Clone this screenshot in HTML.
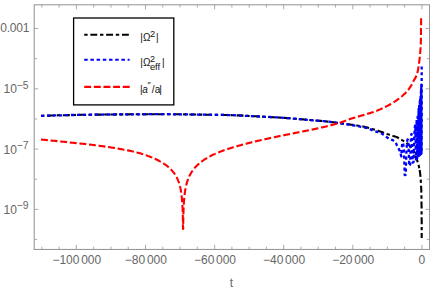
<!DOCTYPE html>
<html><head><meta charset="utf-8"><title>plot</title>
<style>
html,body{margin:0;padding:0;background:#fff;}
svg{display:block;font-family:"Liberation Sans",sans-serif;}
</style></head><body>
<svg width="436" height="293" viewBox="0 0 436 293">
<rect width="436" height="293" fill="#fff"/>
<g fill="none" stroke-linejoin="round">
<polyline transform="translate(0,0.1)" points="41.0,115.7 42.0,115.7 43.0,115.7 44.0,115.6 45.0,115.6 46.0,115.6 47.0,115.6 48.0,115.5 49.0,115.5 50.0,115.5 51.0,115.4 52.0,115.4 53.0,115.4 54.0,115.4 55.0,115.3 56.0,115.3 57.0,115.3 58.0,115.2 59.0,115.2 60.0,115.2 61.0,115.2 62.0,115.2 63.0,115.1 64.0,115.1 65.0,115.1 66.0,115.1 67.0,115.0 68.0,115.0 69.0,115.0 70.0,115.0 71.0,114.9 72.0,114.9 73.0,114.9 74.0,114.9 75.0,114.9 76.0,114.8 77.0,114.8 78.0,114.8 79.0,114.8 80.0,114.8 81.0,114.7 82.0,114.7 83.0,114.7 84.0,114.7 85.0,114.7 86.0,114.7 87.0,114.6 88.0,114.6 89.0,114.6 90.0,114.6 91.0,114.6 92.0,114.6 93.0,114.6 94.0,114.6 95.0,114.5 96.0,114.5 97.0,114.5 98.0,114.5 99.0,114.5 100.0,114.5 101.0,114.5 102.0,114.5 103.0,114.5 104.0,114.4 105.0,114.4 106.0,114.4 107.0,114.4 108.0,114.4 109.0,114.4 110.0,114.4 111.0,114.4 112.0,114.4 113.0,114.4 114.0,114.4 115.0,114.4 116.0,114.3 117.0,114.3 118.0,114.3 119.0,114.3 120.0,114.3 121.0,114.3 122.0,114.3 123.0,114.3 124.0,114.3 125.0,114.3 126.0,114.3 127.0,114.3 128.0,114.3 129.0,114.3 130.0,114.2 131.0,114.2 132.0,114.2 133.0,114.2 134.0,114.2 135.0,114.2 136.0,114.2 137.0,114.2 138.0,114.2 139.0,114.2 140.0,114.2 141.0,114.2 142.0,114.2 143.0,114.2 144.0,114.2 145.0,114.2 146.0,114.1 147.0,114.1 148.0,114.1 149.0,114.1 150.0,114.1 151.0,114.1 152.0,114.1 153.0,114.1 154.0,114.1 155.0,114.1 156.0,114.1 157.0,114.1 158.0,114.1 159.0,114.1 160.0,114.1 161.0,114.1 162.0,114.1 163.0,114.1 164.0,114.1 165.0,114.1 166.0,114.1 167.0,114.1 168.0,114.1 169.0,114.1 170.0,114.1 171.0,114.1 172.0,114.2 173.0,114.2 174.0,114.2 175.0,114.2 176.0,114.2 177.0,114.2 178.0,114.2 179.0,114.2 180.0,114.2 181.0,114.2 182.0,114.3 183.0,114.3 184.0,114.3 185.0,114.3 186.0,114.3 187.0,114.3 188.0,114.3 189.0,114.4 190.0,114.4 191.0,114.4 192.0,114.4 193.0,114.4 194.0,114.4 195.0,114.4 196.0,114.4 197.0,114.5 198.0,114.5 199.0,114.5 200.0,114.5 201.0,114.5 202.0,114.5 203.0,114.5 204.0,114.6 205.0,114.6 206.0,114.6 207.0,114.6 208.0,114.6 209.0,114.6 210.0,114.6 211.0,114.6 212.0,114.7 213.0,114.7 214.0,114.7 215.0,114.7 216.0,114.7 217.0,114.7 218.0,114.8 219.0,114.8 220.0,114.8 221.0,114.8 222.0,114.8 223.0,114.8 224.0,114.9 225.0,114.9 226.0,114.9 227.0,114.9 228.0,115.0 229.0,115.0 230.0,115.0 231.0,115.0 232.0,115.1 233.0,115.1 234.0,115.1 235.0,115.2 236.0,115.2 237.0,115.3 238.0,115.3 239.0,115.3 240.0,115.4 241.0,115.4 242.0,115.5 243.0,115.5 244.0,115.6 245.0,115.7 246.0,115.7 247.0,115.8 248.0,115.8 249.0,115.9 250.0,115.9 251.0,116.0 252.0,116.0 253.0,116.1 254.0,116.1 255.0,116.2 256.0,116.2 257.0,116.3 258.0,116.3 259.0,116.4 260.0,116.4 261.0,116.5 262.0,116.5 263.0,116.6 264.0,116.6 265.0,116.7 266.0,116.7 267.0,116.8 268.0,116.8 269.0,116.9 270.0,116.9 271.0,117.0 272.0,117.0 273.0,117.1 274.0,117.1 275.0,117.2 276.0,117.3 277.0,117.3 278.0,117.4 279.0,117.4 280.0,117.5 281.0,117.6 282.0,117.6 283.0,117.7 284.0,117.8 285.0,117.8 286.0,117.9 287.0,118.0 288.0,118.1 289.0,118.1 290.0,118.2 291.0,118.3 292.0,118.4 293.0,118.5 294.0,118.6 295.0,118.6 296.0,118.7 297.0,118.8 298.0,118.9 299.0,119.0 300.0,119.1 301.0,119.2 302.0,119.2 303.0,119.3 304.0,119.4 305.0,119.5 306.0,119.6 307.0,119.7 308.0,119.8 309.0,119.8 310.0,119.9 311.0,120.0 312.0,120.1 313.0,120.2 314.0,120.2 315.0,120.3 316.0,120.4 317.0,120.5 318.0,120.6 319.0,120.7 320.0,120.8 321.0,120.8 322.0,120.9 323.0,121.0 324.0,121.1 325.0,121.2 326.0,121.3 327.0,121.4 328.0,121.5 329.0,121.6 330.0,121.8 331.0,121.9 332.0,122.0 333.0,122.1 334.0,122.3 335.0,122.4 336.0,122.6 337.0,122.7 338.0,122.9 339.0,123.0 340.0,123.1 341.0,123.3 342.0,123.4 343.0,123.5 344.0,123.6 345.0,123.8 346.0,123.9 347.0,124.0 348.0,124.2 349.0,124.3 350.0,124.4 351.0,124.6 352.0,124.7 353.0,124.8 354.0,125.0 355.0,125.1 356.0,125.3 357.0,125.4 358.0,125.6 359.0,125.7 360.0,125.9 361.0,126.0 362.0,126.2 363.0,126.4 364.0,126.6 365.0,126.8 366.0,127.1 367.0,127.3 368.0,127.6 369.0,127.9 370.0,128.2 371.0,128.5 372.0,128.8 373.0,129.1 374.0,129.4 375.0,129.7 376.0,130.0 377.0,130.3 378.0,130.6 379.0,131.0 380.0,131.3 381.0,131.6 382.0,132.0 383.0,132.3 384.0,132.7 385.0,133.0 386.0,133.4 387.0,133.8 388.0,134.1 389.0,134.5 390.0,134.9 391.0,135.2 392.0,135.5 393.0,135.8 394.0,136.1 395.0,136.4 396.0,136.8 397.0,137.2 398.0,137.7 399.0,138.2 400.0,138.8 401.0,139.4 402.0,140.0 403.0,140.6 404.0,141.2 405.0,141.9 406.0,142.6 407.0,143.3 408.0,144.2 409.0,145.2 410.0,146.3 411.0,147.6 412.0,149.0 413.0,150.5 413.3,151.0 413.8,152.0 414.2,153.0 414.7,154.0 415.1,155.0 415.5,156.0 415.9,157.0 416.3,158.0 416.7,159.0 417.1,160.0 417.4,161.0 417.7,162.0 418.0,163.0 418.3,164.0 418.6,165.0 418.8,166.0 419.0,167.0 419.2,168.0 419.4,169.0 419.6,170.0" stroke="#000" stroke-width="2.1" stroke-dasharray="3.4 2.75 6.9 2.75"/>
<polyline points="419.6,170.0 419.8,171.0 419.9,172.0 420.1,173.0 420.2,174.0 420.3,175.0 420.4,176.0 420.5,177.0 420.6,178.0 420.7,179.0 420.8,180.0 420.8,181.0 420.9,182.0 421.0,183.0 421.0,184.0 421.1,185.0 421.1,186.0 421.1,187.0 421.2,188.0 421.2,189.0 421.3,190.0 421.3,191.0 421.3,192.0 421.4,193.0 421.4,194.0 421.4,195.0 421.4,196.0 421.5,197.0 421.5,198.0 421.5,199.0 421.5,200.0 421.5,201.0 421.5,202.0 421.5,203.0 421.5,204.0 421.5,205.0 421.6,206.0 421.6,207.0 421.6,208.0 421.6,209.0 421.6,210.0 421.6,211.0 421.6,212.0 421.6,213.0 421.6,214.0 421.6,215.0 421.6,216.0 421.6,217.0 421.6,218.0 421.6,219.0 421.7,220.0 421.7,221.0 421.7,222.0 421.7,223.0 421.7,224.0 421.7,225.0 421.7,226.0 421.7,227.0 421.7,228.0 421.7,229.0 421.7,230.0 421.7,231.0 421.7,232.0 421.7,233.0 421.7,234.0 421.7,235.0 421.7,236.0 421.7,237.0 421.7,238.0" stroke="#000" stroke-width="2.1" stroke-dasharray="6.9 2.75 3.4 2.75"/>
<polyline transform="translate(0,0.1)" points="41.0,115.7 42.0,115.7 43.0,115.7 44.0,115.6 45.0,115.6 46.0,115.6 47.0,115.6 48.0,115.5 49.0,115.5 50.0,115.5 51.0,115.4 52.0,115.4 53.0,115.4 54.0,115.4 55.0,115.3 56.0,115.3 57.0,115.3 58.0,115.2 59.0,115.2 60.0,115.2 61.0,115.2 62.0,115.2 63.0,115.1 64.0,115.1 65.0,115.1 66.0,115.1 67.0,115.0 68.0,115.0 69.0,115.0 70.0,115.0 71.0,114.9 72.0,114.9 73.0,114.9 74.0,114.9 75.0,114.9 76.0,114.8 77.0,114.8 78.0,114.8 79.0,114.8 80.0,114.8 81.0,114.7 82.0,114.7 83.0,114.7 84.0,114.7 85.0,114.7 86.0,114.7 87.0,114.6 88.0,114.6 89.0,114.6 90.0,114.6 91.0,114.6 92.0,114.6 93.0,114.6 94.0,114.6 95.0,114.5 96.0,114.5 97.0,114.5 98.0,114.5 99.0,114.5 100.0,114.5 101.0,114.5 102.0,114.5 103.0,114.5 104.0,114.4 105.0,114.4 106.0,114.4 107.0,114.4 108.0,114.4 109.0,114.4 110.0,114.4 111.0,114.4 112.0,114.4 113.0,114.4 114.0,114.4 115.0,114.4 116.0,114.3 117.0,114.3 118.0,114.3 119.0,114.3 120.0,114.3 121.0,114.3 122.0,114.3 123.0,114.3 124.0,114.3 125.0,114.3 126.0,114.3 127.0,114.3 128.0,114.3 129.0,114.3 130.0,114.2 131.0,114.2 132.0,114.2 133.0,114.2 134.0,114.2 135.0,114.2 136.0,114.2 137.0,114.2 138.0,114.2 139.0,114.2 140.0,114.2 141.0,114.2 142.0,114.2 143.0,114.2 144.0,114.2 145.0,114.2 146.0,114.1 147.0,114.1 148.0,114.1 149.0,114.1 150.0,114.1 151.0,114.1 152.0,114.1 153.0,114.1 154.0,114.1 155.0,114.1 156.0,114.1 157.0,114.1 158.0,114.1 159.0,114.1 160.0,114.1 161.0,114.1 162.0,114.1 163.0,114.1 164.0,114.1 165.0,114.1 166.0,114.1 167.0,114.1 168.0,114.1 169.0,114.1 170.0,114.1 171.0,114.1 172.0,114.2 173.0,114.2 174.0,114.2 175.0,114.2 176.0,114.2 177.0,114.2 178.0,114.2 179.0,114.2 180.0,114.2 181.0,114.2 182.0,114.3 183.0,114.3 184.0,114.3 185.0,114.3 186.0,114.3 187.0,114.3 188.0,114.3 189.0,114.4 190.0,114.4 191.0,114.4 192.0,114.4 193.0,114.4 194.0,114.4 195.0,114.4 196.0,114.4 197.0,114.5 198.0,114.5 199.0,114.5 200.0,114.5 201.0,114.5 202.0,114.5 203.0,114.5 204.0,114.6 205.0,114.6 206.0,114.6 207.0,114.6 208.0,114.6 209.0,114.6 210.0,114.6 211.0,114.6 212.0,114.7 213.0,114.7 214.0,114.7 215.0,114.7 216.0,114.7 217.0,114.7 218.0,114.8 219.0,114.8 220.0,114.8 221.0,114.8 222.0,114.8 223.0,114.8 224.0,114.9 225.0,114.9 226.0,114.9 227.0,114.9 228.0,115.0 229.0,115.0 230.0,115.0 231.0,115.0 232.0,115.1 233.0,115.1 234.0,115.1 235.0,115.2 236.0,115.2 237.0,115.3 238.0,115.3 239.0,115.3 240.0,115.4 241.0,115.4 242.0,115.5 243.0,115.5 244.0,115.6 245.0,115.7 246.0,115.7 247.0,115.8 248.0,115.8 249.0,115.9 250.0,115.9 251.0,116.0 252.0,116.0 253.0,116.1 254.0,116.1 255.0,116.2 256.0,116.2 257.0,116.3 258.0,116.3 259.0,116.4 260.0,116.4 261.0,116.5 262.0,116.5 263.0,116.6 264.0,116.6 265.0,116.7 266.0,116.7 267.0,116.8 268.0,116.8 269.0,116.9 270.0,116.9 271.0,117.0 272.0,117.0 273.0,117.1 274.0,117.1 275.0,117.2 276.0,117.3 277.0,117.3 278.0,117.4 279.0,117.4 280.0,117.5 281.0,117.6 282.0,117.6 283.0,117.7 284.0,117.8 285.0,117.8 286.0,117.9 287.0,118.0 288.0,118.1 289.0,118.1 290.0,118.2 291.0,118.3 292.0,118.4 293.0,118.5 294.0,118.6 295.0,118.6 296.0,118.7 297.0,118.8 298.0,118.9 299.0,119.0 300.0,119.1 301.0,119.2 302.0,119.2 303.0,119.3 304.0,119.4 305.0,119.5 306.0,119.6 307.0,119.7 308.0,119.8 309.0,119.8 310.0,119.9 311.0,120.0 312.0,120.1 313.0,120.2 314.0,120.2 315.0,120.3 316.0,120.4 317.0,120.5 318.0,120.6 319.0,120.7 320.0,120.8 321.0,120.8 322.0,120.9 323.0,121.0 324.0,121.1 325.0,121.2 326.0,121.3 327.0,121.4 328.0,121.5 329.0,121.6 330.0,121.8 331.0,121.9 332.0,122.0 333.0,122.1 334.0,122.3 335.0,122.4 336.0,122.6 337.0,122.7 338.0,122.9 339.0,123.0 340.0,123.1 341.0,123.3 342.0,123.5 343.0,123.6 344.0,123.8 345.0,123.9 346.0,124.1 347.0,124.2 348.0,124.4 349.0,124.6 350.0,124.7 351.0,124.9 352.0,125.1 353.0,125.3 354.0,125.4 355.0,125.6 356.0,125.8 357.0,126.0 358.0,126.1 359.0,126.3 360.0,126.5 361.0,126.7 362.0,126.9 363.0,127.1 364.0,127.3 365.0,127.5 366.0,127.8 367.0,128.0 368.0,128.3 369.0,128.6 370.0,129.0 371.0,129.5 372.0,130.0 373.0,130.5 374.0,130.8 375.0,131.2 376.0,131.5 377.0,131.8 378.0,132.1 379.0,132.4 380.0,132.8 381.0,133.2 382.0,133.7 383.0,134.3 384.0,134.8 385.0,135.5 386.0,136.4 387.0,137.2 388.0,138.0 389.0,138.6 390.0,139.0 391.0,139.4 392.0,139.8 393.0,140.2 394.0,140.8 395.0,141.5 396.0,143.1 397.0,145.4 398.0,147.3 399.4,150.0 399.4,150.1 399.5,150.2 399.6,150.4 399.6,150.5 399.7,150.6 399.7,150.7 399.8,150.9 399.8,151.0 399.9,151.2 399.9,151.3 400.0,151.5 400.0,151.6 400.1,151.8 400.1,151.9 400.2,152.1 400.2,152.3 400.3,152.4 400.3,152.6 400.4,152.8 400.4,153.0 400.5,153.2 400.5,153.3 400.6,153.5 400.6,153.7 400.7,153.9 400.7,154.1 400.8,154.3 400.8,154.5 400.9,154.7 400.9,154.9 401.0,155.1 401.0,155.4 401.1,155.6 401.1,155.8 401.2,156.0 401.2,156.2 401.3,156.3 401.3,155.2 401.4,154.3 401.4,153.3 401.5,152.5 401.5,151.6 401.6,150.9 401.6,150.1 401.7,149.4 401.7,148.8 401.8,148.1 401.8,147.5 401.9,147.0 401.9,146.5 402.0,146.0 402.0,145.5 402.1,145.1 402.1,144.7 402.2,144.4 402.2,144.1 402.3,143.8 402.3,143.5 402.4,143.3 402.4,143.1 402.5,142.9 402.5,142.8 402.6,142.6 402.6,142.6 402.7,142.5 402.7,142.5 402.8,142.5 402.8,142.5 402.9,142.6 402.9,142.7 403.0,142.8 403.0,142.9 403.1,143.1 403.1,143.3 403.2,143.6 403.2,143.9 403.3,144.2 403.3,144.6 403.4,144.9 403.4,145.4 403.5,145.8 403.5,146.3 403.6,146.9 403.6,147.5 403.7,148.1 403.7,148.8 403.8,149.5 403.8,150.3 403.9,151.1 403.9,152.0 404.0,153.0 404.0,154.0 404.1,155.1 404.1,156.2 404.2,157.4 404.2,158.8 404.3,160.2 404.3,161.7 404.4,163.3 404.4,165.1 404.5,167.0 404.5,169.0 404.6,171.2 404.6,173.7 404.7,175.0 404.7,175.0 404.8,175.0 404.8,175.0 404.9,174.9 404.9,174.9 405.0,174.9 405.0,174.9 405.1,174.9 405.1,174.9 405.2,174.9 405.2,174.9 405.3,174.9 405.3,174.8 405.4,174.8 405.4,174.8 405.5,174.8 405.5,174.8 405.6,174.8 405.6,174.8 405.7,174.7 405.7,174.7 405.8,174.7 405.8,172.6 405.9,170.1 405.9,167.8 406.0,165.6 406.0,163.7 406.1,161.8 406.1,160.1 406.2,158.5 406.2,157.0 406.3,155.6 406.3,154.3 406.4,153.1 406.4,151.9 406.5,150.8 406.5,149.8 406.6,148.8 406.6,147.9 406.7,147.1 406.7,146.3 406.8,145.5 406.8,144.8 406.9,144.2 406.9,143.6 407.0,143.0 407.0,142.5 407.1,142.0 407.1,141.6 407.2,141.2 407.2,140.9 407.3,140.6 407.3,140.3 407.4,140.0 407.4,139.8 407.5,139.7 407.5,139.5 407.6,139.5 407.6,139.4 407.7,139.4 407.7,139.4 407.8,139.5 407.8,139.6 407.9,139.7 407.9,139.9 408.0,140.2 408.0,140.4 408.1,140.8 408.1,141.1 408.2,141.5 408.2,142.0 408.3,142.5 408.3,143.1 408.4,143.7 408.4,144.4 408.5,145.2 408.5,146.0 408.6,146.9 408.6,147.8 408.7,148.9 408.7,150.0 408.8,151.3 408.8,152.6 408.9,154.1 408.9,155.7 409.0,157.4 409.0,159.3 409.1,161.3 409.1,163.6 409.2,165.8 409.2,165.7 409.3,165.6 409.3,165.6 409.4,165.5 409.4,165.4 409.5,165.4 409.5,165.3 409.6,165.2 409.6,165.2 409.7,165.1 409.7,165.1 409.8,165.0 409.8,164.9 409.9,164.9 409.9,164.8 410.0,164.8 410.0,164.7 410.1,164.7 410.1,164.6 410.2,164.6 410.2,164.5 410.3,162.0 410.3,159.1 410.4,156.6 410.4,154.2 410.5,152.0 410.5,150.1 410.6,148.2 410.6,146.6 410.7,145.0 410.7,143.6 410.8,142.3 410.8,141.1 410.9,140.1 410.9,139.1 411.0,138.2 411.0,137.4 411.1,136.7 411.1,136.0 411.2,135.5 411.2,135.0 411.3,134.7 411.3,134.4 411.4,134.1 411.4,134.0 411.5,133.9 411.5,134.0 411.6,134.0 411.6,134.2 411.7,134.5 411.7,134.8 411.8,135.2 411.8,135.7 411.9,136.3 411.9,137.0 412.0,137.8 412.0,138.7 412.1,139.6 412.1,140.7 412.2,141.9 412.2,143.3 412.3,144.7 412.3,146.3 412.4,148.1 412.4,150.0 412.5,152.2 412.5,154.5 412.6,157.2 412.6,160.1 412.7,162.5 412.7,162.5 412.8,162.4 412.8,162.4 412.9,162.4 412.9,162.3 413.0,162.3 413.0,162.3 413.1,162.2 413.1,162.2 413.2,162.1 413.2,162.1 413.3,162.1 413.3,162.0 413.4,162.0 413.4,162.0 413.5,161.9 413.5,161.9 413.6,161.9 413.6,160.4 413.7,157.4 413.7,154.7 413.8,152.3 413.8,150.0 413.9,148.0 413.9,146.1 414.0,144.3 414.0,142.7 414.1,141.2 414.1,139.8 414.2,138.5 414.2,137.2 414.3,136.1 414.3,135.0 414.4,134.0 414.4,133.1 414.5,132.2 414.5,131.4 414.6,130.6 414.6,129.9 414.7,129.3 414.7,128.7 414.8,128.1 414.8,127.6 414.9,127.1 414.9,126.7 415.0,126.3 415.0,126.0 415.1,125.7 415.1,125.4 415.2,125.2 415.2,125.0 415.3,124.7 416.0,159.5 416.6,119.7 417.2,158.3 417.7,114.2 418.2,157.3 418.6,108.8 418.9,156.3 419.2,104.5 419.5,155.5 419.8,101.2 420.0,155.0 420.2,98.2 420.4,154.6 420.6,95.1 420.7,154.3 420.9,91.6 421.0,154.1 421.1,88.9 421.2,153.9 421.3,87.0 421.4,153.8 421.4,84.6 421.5,153.7" stroke="#0000ff" stroke-width="2.3" stroke-dasharray="3.2 2.8"/>
<polyline points="421.7,66.5 421.5,153.7" stroke="#0000ff" stroke-width="2.3" stroke-dasharray="3 2.8"/>
<polyline transform="translate(0,0.4)" points="41.0,139.1 42.0,139.2 43.0,139.3 44.0,139.4 45.0,139.5 46.0,139.6 47.0,139.7 48.0,139.8 49.0,139.9 50.0,140.0 51.0,140.1 52.0,140.2 53.0,140.3 54.0,140.4 55.0,140.5 56.0,140.6 57.0,140.7 58.0,140.8 59.0,140.9 60.0,141.0 61.0,141.1 62.0,141.2 63.0,141.3 64.0,141.4 65.0,141.5 66.0,141.6 67.0,141.7 68.0,141.9 69.0,142.0 70.0,142.1 71.0,142.2 72.0,142.3 73.0,142.4 74.0,142.5 75.0,142.6 76.0,142.7 77.0,142.8 78.0,142.9 79.0,143.0 80.0,143.1 81.0,143.2 82.0,143.3 83.0,143.4 84.0,143.5 85.0,143.6 86.0,143.7 87.0,143.9 88.0,144.0 89.0,144.1 90.0,144.2 91.0,144.3 92.0,144.4 93.0,144.6 94.0,144.7 95.0,144.8 96.0,144.9 97.0,145.1 98.0,145.2 99.0,145.3 100.0,145.5 101.0,145.6 102.0,145.7 103.0,145.9 104.0,146.0 105.0,146.2 106.0,146.3 107.0,146.4 108.0,146.6 109.0,146.7 110.0,146.9 111.0,147.1 112.0,147.2 113.0,147.4 114.0,147.5 115.0,147.7 116.0,147.9 117.0,148.0 118.0,148.2 119.0,148.4 120.0,148.6 121.0,148.7 122.0,148.9 123.0,149.1 124.0,149.3 125.0,149.4 126.0,149.6 127.0,149.8 128.0,150.0 129.0,150.2 130.0,150.4 131.0,150.6 132.0,150.9 133.0,151.1 134.0,151.3 135.0,151.6 136.0,151.8 137.0,152.1 138.0,152.3 139.0,152.6 140.0,152.9 141.0,153.2 142.0,153.5 143.0,153.8 144.0,154.2 145.0,154.5 146.0,154.8 147.0,155.2 148.0,155.6 149.0,155.9 150.0,156.3 151.0,156.7 152.0,157.1 153.0,157.6 154.0,158.0 155.0,158.4 156.0,158.9 157.0,159.4 158.0,159.9 159.0,160.4 160.0,161.0 161.0,161.5 162.0,162.1 163.0,162.7 164.0,163.4 165.0,164.0 166.0,164.8 167.0,165.5 168.0,166.3 169.0,167.2 170.0,168.1 171.0,169.1 172.0,170.2 173.0,171.4 174.0,172.6 175.0,174.0 176.0,175.7 176.1,175.8 176.2,176.0 176.3,176.2 176.4,176.4 176.5,176.5 176.6,176.7 176.7,176.9 176.8,177.1 176.9,177.3 177.0,177.5 177.1,177.7 177.2,177.9 177.3,178.1 177.4,178.3 177.5,178.6 177.6,178.8 177.7,179.0 177.8,179.2 177.9,179.5 178.0,179.7 178.1,180.0 178.2,180.2 178.3,180.5 178.4,180.7 178.5,181.0 178.6,181.3 178.7,181.6 178.8,181.8 178.9,182.1 179.0,182.4 179.1,182.7 179.2,183.1 179.3,183.4 179.4,183.7 179.5,184.1 179.6,184.4 179.7,184.8 179.8,185.2 179.9,185.5 180.0,185.9 180.1,186.4 180.2,186.8 180.3,187.2 180.4,187.7 180.5,188.2 180.6,188.7 180.7,189.2 180.8,189.7 180.9,190.3 181.0,190.9 181.1,191.5 181.2,192.2 181.3,192.9 181.4,193.6 181.5,194.4 181.6,195.2 181.7,196.1 181.8,197.1 181.9,198.1 182.0,199.2 182.1,200.4 182.2,201.8 182.3,203.3 182.4,205.1 182.5,207.1 182.6,209.4 182.7,212.4 182.8,216.1 182.9,221.4 183.0,228.5 183.2,228.5 183.2,225.1 183.3,218.4 183.4,214.0 183.5,210.7 183.6,208.0 183.7,205.8 183.8,203.9 183.9,202.3 184.0,200.8 184.1,199.5 184.2,198.3 184.3,197.2 184.4,196.1 184.5,195.2 184.6,194.3 184.7,193.5 184.8,192.7 184.9,191.9 185.0,191.3 185.1,190.6 185.2,190.0 185.3,189.4 185.4,188.8 185.5,188.2 185.6,187.7 185.7,187.2 185.8,186.7 185.9,186.2 186.0,185.8 186.1,185.3 186.2,184.9 186.3,184.5 186.4,184.1 186.5,183.7 186.6,183.3 186.7,183.0 186.8,182.6 186.9,182.3 187.0,181.9 187.1,181.6 187.2,181.3 187.3,181.0 187.4,180.7 187.5,180.4 187.6,180.1 187.7,179.8 187.8,179.5 187.9,179.2 188.0,178.9 188.1,178.7 188.2,178.4 188.3,178.2 188.4,177.9 188.5,177.7 188.6,177.4 188.7,177.2 188.8,177.0 188.9,176.7 189.0,176.5 189.1,176.3 189.2,176.1 189.3,175.8 189.4,175.6 189.5,175.4 189.6,175.2 189.7,175.0 189.8,174.8 189.9,174.6 190.0,174.5 190.5,173.6 191.0,172.7 191.5,171.9 192.0,171.1 192.5,170.4 193.0,169.7 193.5,169.1 194.0,168.4 194.5,167.8 195.0,167.2 195.5,166.7 196.0,166.1 196.5,165.6 197.0,165.1 197.5,164.6 198.0,164.2 198.5,163.7 199.0,163.3 199.5,162.9 200.0,162.4 200.5,162.0 201.0,161.6 201.5,161.3 202.0,160.9 202.5,160.5 203.0,160.2 203.5,159.8 204.0,159.5 204.5,159.1 205.0,158.8 205.5,158.5 206.0,158.2 206.5,157.9 207.0,157.6 207.5,157.3 208.0,157.0 208.5,156.7 209.0,156.4 209.5,156.2 210.0,155.9 210.5,155.6 211.0,155.4 211.5,155.1 212.0,154.9 212.5,154.6 213.0,154.4 213.5,154.2 214.0,153.9 214.5,153.7 215.0,153.5 215.5,153.2 216.0,153.0 216.5,152.8 217.0,152.6 217.5,152.4 218.0,152.2 218.5,152.0 219.0,151.8 219.5,151.6 220.0,151.4 220.5,151.2 221.0,151.0 221.5,150.8 222.0,150.6 222.5,150.4 223.0,150.3 223.5,150.1 224.0,149.9 224.5,149.7 225.0,149.6 225.5,149.4 226.0,149.2 226.5,149.0 227.0,148.9 227.5,148.7 228.0,148.5 228.5,148.4 229.0,148.2 229.5,148.1 230.0,147.9 230.5,147.8 231.0,147.6 231.5,147.4 232.0,147.3 232.5,147.1 233.0,147.0 233.5,146.8 234.0,146.7 234.5,146.5 235.0,146.4 235.5,146.2 236.0,146.1 236.5,145.9 237.0,145.8 237.5,145.7 238.0,145.5 238.5,145.4 239.0,145.2 239.5,145.1 240.0,145.0 240.5,144.8 241.0,144.7 241.5,144.5 242.0,144.4 242.5,144.3 243.0,144.1 243.5,144.0 244.0,143.9 244.5,143.7 245.0,143.6 245.5,143.5 246.0,143.4 246.5,143.2 247.0,143.1 247.5,143.0 248.0,142.8 248.5,142.7 249.0,142.6 249.5,142.5 250.0,142.3 250.5,142.2 251.0,142.1 251.5,142.0 252.0,141.8 252.5,141.7 253.0,141.6 253.5,141.5 254.0,141.4 254.5,141.2 255.0,141.1 255.5,141.0 256.0,140.9 256.5,140.8 257.0,140.6 257.5,140.5 258.0,140.4 258.5,140.3 259.0,140.2 259.5,140.1 260.0,140.0 260.5,139.8 261.0,139.7 261.5,139.6 262.0,139.5 262.5,139.4 263.0,139.3 263.5,139.2 264.0,139.0 264.5,138.9 265.0,138.8 265.5,138.7 266.0,138.6 266.5,138.5 267.0,138.4 267.5,138.3 268.0,138.2 268.5,138.1 269.0,137.9 269.5,137.8 270.0,137.7 270.5,137.6 271.0,137.5 271.5,137.4 272.0,137.3 272.5,137.2 273.0,137.1 273.5,137.0 274.0,136.9 274.5,136.8 275.0,136.7 275.5,136.6 276.0,136.4 276.5,136.3 277.0,136.2 277.5,136.1 278.0,136.0 278.5,135.9 279.0,135.8 279.5,135.7 280.0,135.6 280.5,135.5 281.0,135.4 281.5,135.3 282.0,135.2 282.5,135.1 283.0,135.0 283.5,134.9 284.0,134.8 284.5,134.7 285.0,134.6 285.5,134.5 286.0,134.4 286.5,134.3 287.0,134.2 287.5,134.1 288.0,134.0 288.5,133.9 289.0,133.8 289.5,133.7 290.0,133.6 290.5,133.5 291.0,133.4 291.5,133.3 292.0,133.2 292.5,133.1 293.0,133.0 293.5,132.9 294.0,132.8 294.5,132.7 295.0,132.6 295.5,132.5 296.0,132.4 296.5,132.3 297.0,132.2 297.5,132.1 298.0,132.0 298.5,131.9 299.0,131.8 299.5,131.7 300.0,131.6 300.5,131.5 301.0,131.4 301.5,131.3 302.0,131.2 302.5,131.1 303.0,131.0 303.5,130.9 304.0,130.8 304.5,130.7 305.0,130.6 305.5,130.5 306.0,130.4 306.5,130.3 307.0,130.2 307.5,130.1 308.0,130.0 308.5,129.9 309.0,129.8 309.5,129.7 310.0,129.6 310.5,129.5 311.0,129.4 311.5,129.3 312.0,129.2 312.5,129.1 313.0,129.0 313.5,128.9 314.0,128.8 314.5,128.7 315.0,128.6 315.5,128.5 316.0,128.3 316.5,128.2 317.0,128.1 317.5,128.0 318.0,127.9 318.5,127.8 319.0,127.7 319.5,127.6 320.0,127.5 320.5,127.4 321.0,127.3 321.5,127.1 322.0,127.0 322.5,126.9 323.0,126.8 323.5,126.7 324.0,126.6 324.5,126.4 325.0,126.3 325.5,126.2 326.0,126.1 326.5,126.0 327.0,125.8 327.5,125.7 328.0,125.6 328.5,125.5 329.0,125.3 329.5,125.2 330.0,125.1 330.5,124.9 331.0,124.8 331.5,124.7 332.0,124.6 332.5,124.4 333.0,124.3 333.5,124.2 334.0,124.1 334.5,123.9 335.0,123.8 335.5,123.6 336.0,123.5 336.5,123.4 337.0,123.2 337.5,123.1 338.0,122.9 338.5,122.8 339.0,122.6 339.5,122.5 340.0,122.3 340.5,122.1 341.0,122.0 341.5,121.8 342.0,121.6 342.5,121.5 343.0,121.3 343.5,121.1 344.0,120.9 344.5,120.7 345.0,120.5 345.5,120.3 346.0,120.1 346.5,119.9 347.0,119.8 347.5,119.6 348.0,119.4 348.5,119.2 349.0,119.0 349.5,118.8 350.0,118.6 350.5,118.5 351.0,118.3 351.5,118.1 352.0,118.0 352.5,117.8 353.0,117.7 353.5,117.5 354.0,117.4 354.5,117.2 355.0,117.1 355.5,116.9 356.0,116.8 356.5,116.6 357.0,116.5 357.5,116.3 358.0,116.2 358.5,116.1 359.0,115.9 359.5,115.8 360.0,115.6 360.5,115.5 361.0,115.3 361.5,115.2 362.0,115.1 362.5,114.9 363.0,114.8 363.5,114.6 364.0,114.5 364.5,114.3 365.0,114.2 365.5,114.0 366.0,113.9 366.5,113.7 367.0,113.6 367.5,113.4 368.0,113.3 368.5,113.1 369.0,113.0 369.5,112.8 370.0,112.7 370.5,112.5 371.0,112.4 371.5,112.2 372.0,112.1 372.5,111.9 373.0,111.7 373.5,111.6 374.0,111.4 374.5,111.2 375.0,111.0 375.5,110.8 376.0,110.6 376.5,110.5 377.0,110.3 377.5,110.1 378.0,109.8 378.5,109.6 379.0,109.4 379.5,109.2 380.0,109.0 380.5,108.8 381.0,108.5 381.5,108.3 382.0,108.1 382.5,107.8 383.0,107.6 383.5,107.4 384.0,107.1 384.5,106.9 385.0,106.6 385.5,106.4 386.0,106.2 386.5,105.9 387.0,105.7 387.5,105.4 388.0,105.2 388.5,104.9 389.0,104.6 389.5,104.4 390.0,104.1 390.5,103.8 391.0,103.5 391.5,103.2 392.0,102.9 392.5,102.6 393.0,102.3 393.5,102.0 394.0,101.7 394.5,101.3 395.0,101.0 395.5,100.7 396.0,100.3 396.5,100.0 397.0,99.6 397.5,99.3 398.0,98.9 398.5,98.5 399.0,98.2 399.5,97.8 400.0,97.4 400.5,97.0 401.0,96.6 401.5,96.2 402.0,95.8 402.5,95.3 403.0,94.9 403.5,94.4 404.0,93.9 404.5,93.5 405.0,93.0 405.5,92.5 406.0,92.0 406.5,91.5 407.0,90.9 407.5,90.3 408.0,89.7 408.5,89.1 409.0,88.5 409.5,87.8 410.0,87.0 410.5,86.2 411.0,85.4 411.5,84.5 412.0,83.6 412.5,82.6 413.0,81.6 413.5,80.6 413.8,80.0 414.1,79.5 414.5,79.0 414.8,78.5 415.1,78.0 415.4,77.5 415.6,77.0 415.9,76.5 416.1,76.0 416.3,75.5 416.5,75.0 416.7,74.5 416.8,74.0 417.0,73.5 417.1,73.0 417.3,72.5 417.4,72.0 417.6,71.5 417.7,71.0 417.8,70.5 417.9,70.0 418.0,69.5 418.1,69.0 418.2,68.5 418.3,68.0 418.4,67.5 418.5,67.0 418.5,66.5 418.6,66.0 418.7,65.5 418.8,65.0 418.8,64.5 418.9,64.0 419.0,63.5 419.0,63.0 419.1,62.5 419.2,62.0 419.2,61.5 419.3,61.0 419.4,60.5 419.4,60.0 419.5,59.5 419.5,59.0 419.6,58.5 419.6,58.0 419.7,57.5 419.7,57.0 419.8,56.5 419.8,56.0 419.9,55.5 420.0,55.0 420.0,54.5 420.1,54.0 420.1,53.5 420.2,53.0 420.2,52.5 420.2,52.0 420.3,51.5 420.3,51.0 420.4,50.5 420.4,50.0 420.4,49.5 420.5,49.0 420.5,48.5 420.5,48.0 420.6,47.5 420.6,47.0 420.6,46.5 420.7,46.0 420.7,45.5 420.7,45.0 420.7,44.5 420.8,44.0 420.8,43.5 420.8,43.0 420.8,42.5 420.8,42.0 420.9,41.5 420.9,41.0 420.9,40.5 420.9,40.0 420.9,39.5 420.9,39.0 420.9,38.5 420.9,38.0 420.9,37.5 420.9,37.0 421.0,36.5 421.0,36.0 421.0,35.5 421.0,35.0 421.0,34.5 421.0,34.0 421.0,33.5 421.0,33.0 421.0,32.5 421.0,32.0 421.0,31.5 421.0,31.0 421.0,30.5 421.0,30.0 421.0,29.5 421.0,29.0 421.0,28.5 421.0,28.0 421.1,27.5 421.1,27.0 421.1,26.5 421.1,26.0 421.1,25.5 421.1,25.0 421.1,24.5 421.1,24.0 421.1,23.5 421.1,23.0 421.1,22.5 421.1,22.0 421.1,21.5 421.1,21.0 421.1,20.5 421.1,20.0 421.1,19.5 421.1,19.0 421.1,18.5 421.1,18.0 421.1,17.5 421.1,17.0 421.1,16.5" stroke="#ff0000" stroke-width="2.1" stroke-dasharray="6.9 2.75"/>
</g>
<g fill="none" stroke="#969696" stroke-width="1.05">
<rect x="34.2" y="4.8" width="395.3" height="244.64999999999998"/>
<path d="M41.85,249.45 v-2.8 M41.85,4.8 v2.8 M59.13,249.45 v-2.8 M59.13,4.8 v2.8 M93.68,249.45 v-2.8 M93.68,4.8 v2.8 M110.95,249.45 v-2.8 M110.95,4.8 v2.8 M128.23,249.45 v-2.8 M128.23,4.8 v2.8 M162.77,249.45 v-2.8 M162.77,4.8 v2.8 M180.05,249.45 v-2.8 M180.05,4.8 v2.8 M197.32,249.45 v-2.8 M197.32,4.8 v2.8 M231.88,249.45 v-2.8 M231.88,4.8 v2.8 M249.15,249.45 v-2.8 M249.15,4.8 v2.8 M266.43,249.45 v-2.8 M266.43,4.8 v2.8 M300.98,249.45 v-2.8 M300.98,4.8 v2.8 M318.25,249.45 v-2.8 M318.25,4.8 v2.8 M335.52,249.45 v-2.8 M335.52,4.8 v2.8 M370.07,249.45 v-2.8 M370.07,4.8 v2.8 M387.35,249.45 v-2.8 M387.35,4.8 v2.8 M404.62,249.45 v-2.8 M404.62,4.8 v2.8 M76.40,249.45 v-4.6 M76.40,4.8 v4.6 M145.50,249.45 v-4.6 M145.50,4.8 v4.6 M214.60,249.45 v-4.6 M214.60,4.8 v4.6 M283.70,249.45 v-4.6 M283.70,4.8 v4.6 M352.80,249.45 v-4.6 M352.80,4.8 v4.6 M421.90,249.45 v-4.6 M421.90,4.8 v4.6 M34.2,28.50 h4 M429.5,28.50 h-4 M34.2,88.80 h4 M429.5,88.80 h-4 M34.2,149.10 h4 M429.5,149.10 h-4 M34.2,209.40 h4 M429.5,209.40 h-4 M34.2,58.65 h2.8 M429.5,58.65 h-2.8 M34.2,118.95 h2.8 M429.5,118.95 h-2.8 M34.2,179.25 h2.8 M429.5,179.25 h-2.8 M34.2,239.55 h2.8 M429.5,239.55 h-2.8" stroke-width="0.8"/>
</g>
<g font-size="12" fill="#666">
<text x="76.80" y="263.6" text-anchor="middle" >−100<tspan dx="1.7">000</tspan></text>
<text x="145.90" y="263.6" text-anchor="middle" >−80<tspan dx="1.7">000</tspan></text>
<text x="215.00" y="263.6" text-anchor="middle" >−60<tspan dx="1.7">000</tspan></text>
<text x="284.10" y="263.6" text-anchor="middle" >−40<tspan dx="1.7">000</tspan></text>
<text x="353.20" y="263.6" text-anchor="middle" >−20<tspan dx="1.7">000</tspan></text>
<text x="421.90" y="263.6" text-anchor="middle">0</text>
<text x="0.3" y="31.80" letter-spacing="-0.25">0.001</text>
<text x="3.6" y="93.20">10<tspan dy="-4.4" dx="-0.3" font-size="10.4">−5</tspan></text>
<text x="3.6" y="153.50">10<tspan dy="-4.4" dx="-0.3" font-size="10.4">−7</tspan></text>
<text x="3.6" y="213.80">10<tspan dy="-4.4" dx="-0.3" font-size="10.4">−9</tspan></text>
<text x="231.5" y="286.6" text-anchor="middle">t</text>
</g>
<rect x="73.6" y="18.0" width="100.2" height="86.9" fill="#fff" stroke="#000" stroke-width="1.3"/>
<g fill="none" stroke-width="2.1">
<path d="M84.2,34.8 H129" stroke="#000" stroke-dasharray="3.4 2.75 6.9 2.75"/>
<path d="M84.2,59.8 H129.6" stroke="#0000ff" stroke-dasharray="3.5 2.7"/>
<path d="M84.2,86.9 H130" stroke="#ff0000" stroke-dasharray="6.9 2.75"/>
</g>
<g font-size="10" fill="#111">
<text x="140.3" y="40.8">|Ω</text><text x="150.1" y="36.6" font-size="9.3">2</text><text x="156.0" y="40.8">|</text>
<text x="140.3" y="65.6">|Ω</text><text x="150.1" y="61.6" font-size="9">2</text>
<text x="149.9" y="69.6" font-size="9.4">eff</text>
<text x="161.9" y="65.6">|</text>
<text x="140.1" y="92.7">|</text><text x="142.3" y="92.7" font-style="italic">a</text><text x="147.6" y="87.7" font-size="9">″</text><text x="151.7" y="92.7">/</text><text x="154.7" y="92.7">a</text><text x="159.3" y="92.7">|</text>
</g>
</svg>
</body></html>
